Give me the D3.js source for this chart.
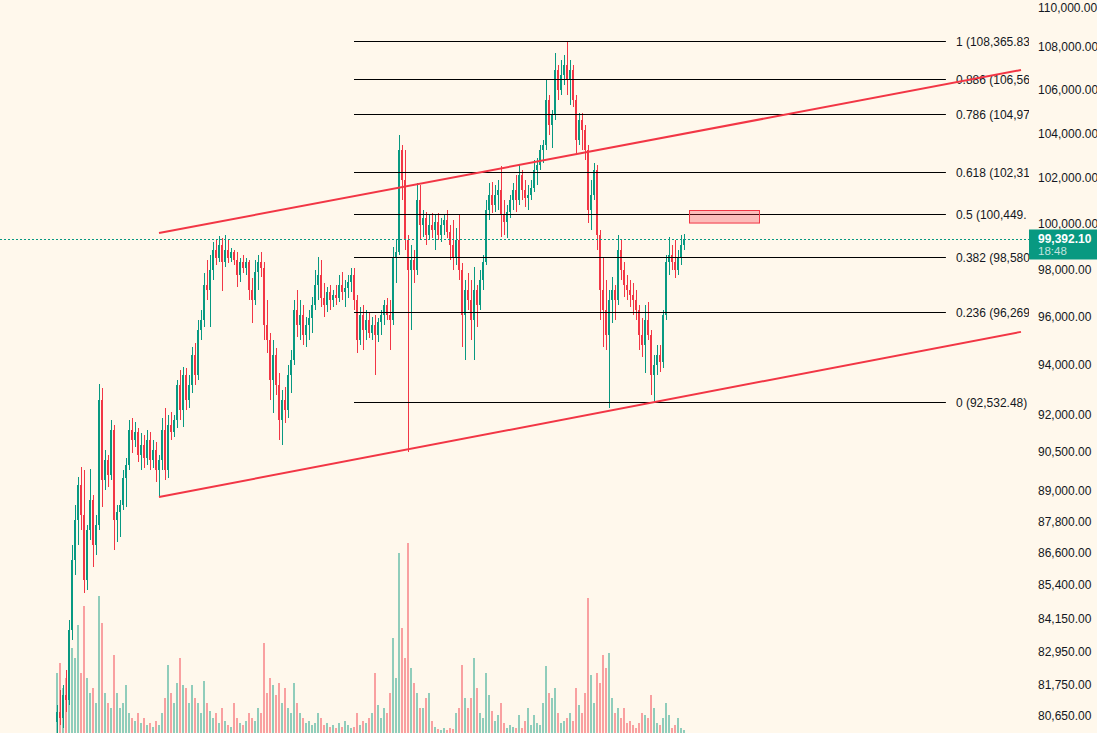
<!DOCTYPE html>
<html><head><meta charset="utf-8">
<script src="https://cdn.jsdelivr.net/npm/d3@7"></script>
<style>body{margin:0;background:#fff8ec;}svg{display:block}</style>
</head><body>
<svg id="c" width="1097" height="733"></svg>
<script>
const opens=[80480,80830,80620,81440,81260,83780,86380,87900,89260,88100,
85630,87520,88680,86950,87710,92630,89450,90240,89650,91430,
87900,88210,88480,89530,90040,91430,91030,91350,90430,90830,
90320,91030,90240,90630,89840,90240,91430,89840,91630,91350,
91830,93240,92230,93650,92630,93240,94470,93650,95510,95930,
97400,97190,98040,98900,98560,99120,98390,98900,98560,98820,
98470,97830,98390,98130,98390,97190,96770,97960,98390,98130,
95720,95090,93450,94470,93240,91830,92630,92230,93650,94270,
96350,95720,96140,95300,95720,96010,96560,97400,97830,96850,
96560,97110,96770,96980,96850,97400,97110,97280,97530,97830,
96770,95090,96140,95510,95930,95380,95720,95300,95840,96140,
96560,96140,95930,98560,98820,103320,101970,99340,98040,98470,
98040,101090,99990,100300,99560,99990,99770,100120,99560,99990,
100210,99690,99120,98560,99340,98040,96140,97190,96770,95930,
97190,96560,97620,98390,100650,101310,100870,101310,101530,100430,
100120,100560,101090,101530,101090,102200,101530,101180,101310,101620,
102420,102650,103320,103540,105600,104450,104910,106990,106060,106760,
107230,106530,106990,105600,103770,104680,104230,103320,100650,101310,
102420,99560,97190,96350,95300,96770,97190,96770,98900,98040,
97400,97190,96980,96770,96350,95300,94890,95930,95300,93650,
94060,94470,94180,96140,98390,98690,98390,98040,98560,99120];
const highs=[81080,81610,81790,82330,84150,86950,88480,89570,89960,89840,
87710,89880,88870,88100,93280,93120,90630,90430,91830,91630,
88480,88680,89840,90320,91830,91910,91750,91510,91310,91230,
91430,91350,91030,90950,90430,91910,92310,92030,92150,92030,
93450,93860,93980,93940,93650,94800,94970,95930,96350,97920,
98470,98690,99250,99340,99510,99430,99560,99340,98990,98900,
98820,98560,98690,98560,98470,97700,98470,98690,98820,98390,
96770,95380,95090,94760,93730,93040,93160,94060,94680,96770,
97190,96770,96560,96050,96350,96900,98040,98600,98470,97490,
97320,97400,97190,97400,97830,97960,97620,97830,98130,98130,
96980,96470,96560,96350,96260,96050,96140,96010,96350,96770,
96850,96770,99030,99340,104000,103540,103320,99560,99120,98900,
101840,101750,100650,100560,100430,100520,100430,100520,100300,100430,
100650,99990,100210,99860,100430,98340,97620,97920,97620,98170,
97400,98040,98690,101090,101840,101890,101750,101970,102600,101090,
100870,101310,101840,102200,102650,102420,101970,101750,101970,102870,
102960,103540,103770,106530,105830,105140,107810,107230,107460,107700,
108365.83,107460,107230,105830,105000,105000,104450,103540,101970,102740,
102650,99770,98560,97620,97190,97750,97400,99560,99340,98390,
97830,97620,97490,97190,96560,96010,96560,96680,95510,94470,
94890,94890,96350,98690,99470,99120,99340,98900,99560,99600];
const lows=[80100,80380,80270,80830,81080,83420,85820,86950,87520,85150,
85260,87140,86120,86570,87520,88400,89060,89180,89450,86760,
87060,87250,88290,88400,89840,90510,90750,90160,89840,89920,
90040,89840,89920,89380,88790,89840,89450,89530,91030,91150,
91510,91830,91550,92230,92310,92920,93240,93450,95090,95630,
96770,95630,97620,98260,98390,97150,98170,98340,98390,98260,
97320,97530,97920,97830,96770,95800,96560,97190,97740,95090,
94550,92630,92110,92840,91030,90830,91710,91910,92920,94060,
95220,95090,94890,94800,95090,95380,96350,96770,96470,96050,
96260,96350,96470,96560,96680,96770,96470,96850,97110,96350,
94550,94890,94680,95090,95180,95090,93650,95010,95300,95720,
95930,94680,95720,97490,98690,101090,98900,90550,95510,97490,
97830,99340,99470,99120,99340,99430,98900,99340,99250,99560,
99430,98470,98040,98260,97620,94800,94270,96350,95090,94270,
95630,96350,97190,98260,100210,100520,100560,100650,99470,99560,
99430,100300,100650,100560,100870,101090,100780,100650,101090,101440,
101750,102420,102740,103320,104000,103410,104680,105600,105830,106290,
105830,105370,105280,103180,103540,103320,102870,100080,99770,101090,
98900,95930,94800,94680,92310,95800,95930,96560,97620,96900,
96770,96470,96140,95930,94680,94390,93730,95090,92840,92532.48,
93650,93770,93940,95930,97830,98040,97700,97830,98260,98900];
const closes=[80830,80620,81440,81260,83780,86380,87900,89260,88100,85630,
87520,88680,86950,87710,92630,89450,90240,89650,91430,87900,
88210,88480,89530,90040,91430,91030,91350,90430,90830,90320,
91030,90240,90630,89840,90240,91430,89840,91630,91350,91830,
93240,92230,93650,92630,93240,94470,93650,95510,95930,97400,
97190,98040,98900,98560,99120,98390,98900,98560,98820,98470,
97830,98390,98130,98390,97190,96770,97960,98390,98130,95720,
95090,93450,94470,93240,91830,92630,92230,93650,94270,96350,
95720,96140,95300,95720,96010,96560,97400,97830,96850,96560,
97110,96770,96980,96850,97400,97110,97280,97530,97830,96770,
95090,96140,95510,95930,95380,95720,95300,95840,96140,96560,
96140,95930,98560,98820,103320,101970,99340,98040,98470,98040,
101090,99990,100300,99560,99990,99770,100120,99560,99990,100210,
99690,99120,98560,99340,98040,96140,97190,96770,95930,97190,
96560,97620,98390,100650,101310,100870,101310,101530,100430,100120,
100560,101090,101530,101090,102200,101530,101180,101310,101620,102420,
102650,103320,103540,105600,104450,104910,106990,106060,106760,107230,
106530,106990,105600,103770,104680,104230,103320,100650,101310,102420,
99560,97190,96350,95300,96770,97190,96770,98900,98040,97400,
97190,96980,96770,96350,95300,94890,95930,95300,93650,94060,
94470,94180,96140,98390,98690,98390,98040,98560,99120,99392.10];
const volumes=[60,70,45,55,75,85,75,108,60,127,
55,40,45,30,137,110,40,30,25,78,
40,25,30,48,20,15,12,20,10,15,
8,10,6,12,8,20,35,68,40,30,
50,75,48,45,30,48,35,30,20,52,
30,22,15,20,10,25,12,8,6,30,
15,10,8,12,20,15,12,25,20,90,
40,55,48,38,50,30,45,25,20,50,
30,20,15,10,12,8,10,20,15,8,
10,6,8,5,10,6,12,8,5,6,
20,8,12,10,15,20,60,28,15,25,
20,40,95,55,180,105,75,190,65,50,
40,25,25,35,40,12,6,4,3,5,
3,5,4,20,25,68,35,25,35,75,
45,20,15,60,38,22,12,18,30,10,
5,8,6,5,18,5,12,25,8,18,
10,8,30,67,40,35,45,20,10,12,
15,20,12,45,28,20,40,135,58,30,
60,50,78,65,80,35,20,25,15,25,
10,12,8,5,10,20,18,15,38,25,
10,8,15,30,18,5,8,15,5,3];
const priceTicks=[110000,108000,106000,104000,102000,100000,98000,96000,94000,92000,90500,89000,87800,86600,85400,84150,82950,81750,80650];
const lastPrice=99392.10;
const lastTimeLabel="18:48";
const fibLow=92532.48, fibHigh=108365.83;
const fibRatios=[1,0.886,0.786,0.618,0.5,0.382,0.236,0];
const fibSpan=[99,296.3];
const upperTrend=[[34,99640],[321.33,106990]];
const lowerTrend=[[34,88790],[321.33,95430]];
const zoneIdx=[210.67,234];
const zonePrice=[100100,100650];

const W=1097,H=733,plotW=1029;
const N=closes.length;
const up='#089981',dn='#f23645';
const FONT='"Liberation Sans", Arial, sans-serif';
const x=d3.scaleLinear().domain([0,N-1]).range([57,684]);
const y=d3.scaleLog().domain([80650,110000]).range([717.2,6.5]);
const vy=d3.scaleLinear().domain([0,d3.max(volumes)]).range([0,190]);
const fmt=d3.format(",.2f");
const svg=d3.select('#c');
svg.append('rect').attr('width',W).attr('height',H).attr('fill','#fff8ec');
svg.append('defs').append('clipPath').attr('id','plot').append('rect').attr('width',plotW).attr('height',H);
const g=svg.append('g').attr('clip-path','url(#plot)');
const data=closes.map((c,i)=>({i,o:opens[i],h:highs[i],l:lows[i],c,v:volumes[i]}));
const col=d=>d.c>=d.o?up:dn;
// volume
g.append('g').attr('shape-rendering','crispEdges').selectAll('rect').data(data).join('rect')
 .attr('x',d=>Math.round(x(d.i))-1).attr('width',2)
 .attr('y',d=>H-vy(d.v)).attr('height',d=>vy(d.v))
 .attr('fill',col).attr('fill-opacity',0.45);
// candles
const cg=g.append('g').attr('shape-rendering','crispEdges');
cg.selectAll('rect.w').data(data).join('rect').attr('class','w')
 .attr('x',d=>Math.round(x(d.i))).attr('width',1)
 .attr('y',d=>y(d.h)).attr('height',d=>Math.max(1,y(d.l)-y(d.h))).attr('fill',col);
cg.selectAll('rect.b').data(data).join('rect').attr('class','b')
 .attr('x',d=>Math.round(x(d.i))-1).attr('width',2)
 .attr('y',d=>y(Math.max(d.o,d.c))).attr('height',d=>Math.max(1,y(Math.min(d.o,d.c))-y(Math.max(d.o,d.c)))).attr('fill',col);
// fib
const fg=g.append('g');
fibRatios.forEach(r=>{
  const p=fibLow+r*(fibHigh-fibLow);
  const yy=Math.round(y(p))+0.5;
  const lx=x(fibSpan[1])+10;
  fg.append('line').attr('x1',x(fibSpan[0])).attr('x2',x(fibSpan[1])).attr('y1',yy).attr('y2',yy).attr('stroke','#000').attr('stroke-width',1);
  const t=fg.append('text').attr('x',lx).attr('y',yy+4).attr('font-family',FONT).attr('font-size',12).attr('fill','#131722');
  let s=`${r} (${fmt(p)})`;
  t.text(s);
  // the label is cut where the price scale begins
  while(s.length>1 && t.node().getComputedTextLength()>plotW-lx+1){ s=s.slice(0,-1); t.text(s); }
});
// zone
g.append('rect').attr('x',x(zoneIdx[0])+0.5).attr('width',x(zoneIdx[1])-x(zoneIdx[0]))
 .attr('y',Math.round(y(zonePrice[1]))+0.5).attr('height',y(zonePrice[0])-y(zonePrice[1]))
 .attr('fill','rgba(242,54,69,0.3)').attr('stroke',dn).attr('stroke-width',1);
// trend lines
[upperTrend,lowerTrend].forEach(t=>{
  g.append('line').attr('x1',x(t[0][0])).attr('y1',y(t[0][1])).attr('x2',x(t[1][0])).attr('y2',y(t[1][1]))
   .attr('stroke',dn).attr('stroke-width',2);
});
// last price line
const ly=Math.round(y(lastPrice))+0.5;
g.append('line').attr('x1',0).attr('x2',plotW).attr('y1',ly).attr('y2',ly).attr('stroke',up).attr('stroke-width',1).attr('stroke-dasharray','2,2');
// axis
const ax=svg.append('g').attr('transform',`translate(${plotW},0)`)
 .call(d3.axisRight(y).tickValues(priceTicks).tickFormat(fmt).tickSize(0).tickPadding(9));
ax.select('.domain').remove();
ax.selectAll('text').attr('font-family',FONT).attr('font-size',12).attr('fill','#131722').attr('dy','0.2em');
ax.selectAll('.tick').filter(d=>d===110000).select('text').attr('dy','0.45em');
// price label
const pl=svg.append('g');
pl.append('rect').attr('x',plotW).attr('y',ly-10).attr('width',W-plotW).attr('height',30).attr('fill',up);
pl.append('text').attr('x',plotW+9).attr('y',ly+3).attr('font-family',FONT).attr('font-size',12).attr('font-weight','bold').attr('fill','#fff').text(fmt(lastPrice));
pl.append('text').attr('x',plotW+9).attr('y',ly+15).attr('font-family',FONT).attr('font-size',11.5).attr('fill','rgba(255,255,255,0.75)').text(lastTimeLabel);
</script>
</body></html>
